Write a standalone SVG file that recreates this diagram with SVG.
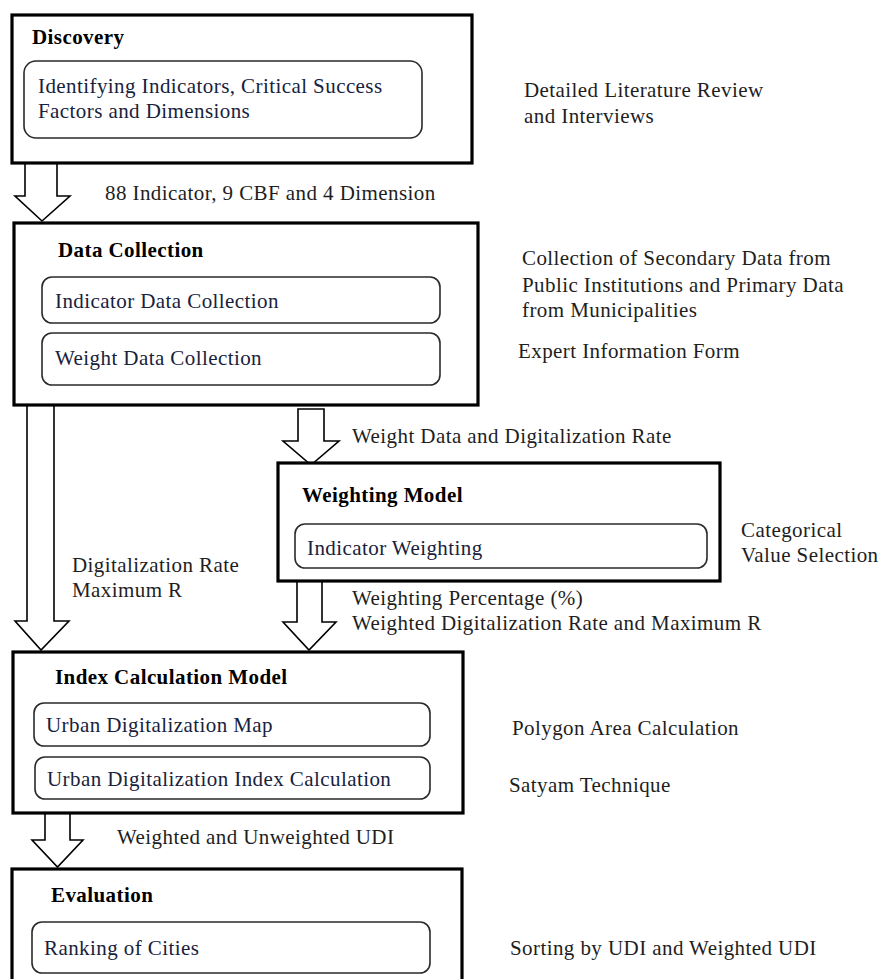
<svg xmlns="http://www.w3.org/2000/svg" width="883" height="979" viewBox="0 0 883 979" font-family="'Liberation Serif', 'Times New Roman', Times, 'DejaVu Serif', serif">
  <style>
    .stage { fill: #ffffff; stroke: #000000; stroke-width: 3.2; }
    .task { fill: #ffffff; stroke: #2a2a2a; stroke-width: 1.6; }
    .flow { fill: #ffffff; stroke: #000000; stroke-width: 1.6; stroke-linejoin: miter; }
    text { font-family: 'Liberation Serif', 'Times New Roman', Times, 'DejaVu Serif', serif; font-size: 21px; letter-spacing: 0.42px; }
    .title { font-weight: bold; fill: #000000; }
    .item { fill: #17223d; }
    .note { fill: #1e1e1e; }
  </style>

  <rect width="883" height="979" fill="#ffffff"/>

  <!-- block arrows between stages -->
  <g id="connectors">
    <path class="flow" d="M25,163 L25,196 L15,196 L42,221 L70,196 L57,196 L57,163 Z"/>
    <path class="flow" d="M27,405 L27,621 L15,621 L41,650 L69,621 L54,621 L54,405 Z"/>
    <path class="flow" d="M298,409 L298,441 L283,441 L311,465 L339,441 L324,441 L324,409 Z"/>
    <path class="flow" d="M297,581 L297,622 L283,622 L309,650 L336,622 L322,622 L322,581 Z"/>
    <path class="flow" d="M45,813 L45,840 L32,840 L57.5,867 L83,840 L70,840 L70,813 Z"/>
    <text class="note" x="105" y="200">88 Indicator, 9 CBF and 4 Dimension</text>
    <text class="note" x="72" y="572">Digitalization Rate</text>
    <text class="note" x="72" y="597">Maximum R</text>
    <text class="note" x="352" y="443">Weight Data and Digitalization Rate</text>
    <text class="note" x="352" y="605">Weighting Percentage (%)</text>
    <text class="note" x="352" y="630">Weighted Digitalization Rate and Maximum R</text>
    <text class="note" x="117" y="844">Weighted and Unweighted UDI</text>
  </g>

  <!-- stage 1 -->
  <g id="discovery">
    <rect class="stage" x="12" y="15" width="460" height="148"/>
    <text class="title" x="32" y="44">Discovery</text>
    <rect class="task" x="24" y="61" width="398" height="77" rx="12"/>
    <text class="item" x="38" y="93">Identifying Indicators, Critical Success</text>
    <text class="item" x="38" y="118">Factors and Dimensions</text>
    <text class="note" x="524" y="97">Detailed Literature Review</text>
    <text class="note" x="524" y="123">and Interviews</text>
  </g>

  <!-- stage 2 -->
  <g id="data-collection">
    <rect class="stage" x="14" y="223" width="464" height="182"/>
    <text class="title" x="58" y="257">Data Collection</text>
    <rect class="task" x="42" y="277" width="398" height="46" rx="10"/>
    <text class="item" x="55" y="308">Indicator Data Collection</text>
    <rect class="task" x="42" y="333" width="398" height="52" rx="10"/>
    <text class="item" x="55" y="365">Weight Data Collection</text>
    <text class="note" x="522" y="265">Collection of Secondary Data from</text>
    <text class="note" x="522" y="292">Public Institutions and Primary Data</text>
    <text class="note" x="522" y="317">from Municipalities</text>
    <text class="note" x="518" y="358">Expert Information Form</text>
  </g>

  <!-- stage 3 -->
  <g id="weighting-model">
    <rect class="stage" x="278" y="463" width="442" height="118"/>
    <text class="title" x="302" y="502">Weighting Model</text>
    <rect class="task" x="295" y="524" width="412" height="44" rx="10"/>
    <text class="item" x="307" y="555">Indicator Weighting</text>
    <text class="note" x="741" y="537">Categorical</text>
    <text class="note" x="741" y="562">Value Selection</text>
  </g>

  <!-- stage 4 -->
  <g id="index-calculation">
    <rect class="stage" x="13" y="652" width="450" height="161"/>
    <text class="title" x="55" y="684">Index Calculation Model</text>
    <rect class="task" x="34" y="703" width="396" height="43" rx="10"/>
    <text class="item" x="46" y="732">Urban Digitalization Map</text>
    <rect class="task" x="35" y="757" width="395" height="42" rx="10"/>
    <text class="item" x="47" y="786">Urban Digitalization Index Calculation</text>
    <text class="note" x="512" y="735">Polygon Area Calculation</text>
    <text class="note" x="509" y="792">Satyam Technique</text>
  </g>

  <!-- stage 5 -->
  <g id="evaluation">
    <rect class="stage" x="12" y="869" width="450" height="130"/>
    <text class="title" x="51" y="902">Evaluation</text>
    <rect class="task" x="32" y="922" width="398" height="51" rx="10"/>
    <text class="item" x="44" y="955">Ranking of Cities</text>
    <text class="note" x="510" y="955">Sorting by UDI and Weighted UDI</text>
  </g>
</svg>
